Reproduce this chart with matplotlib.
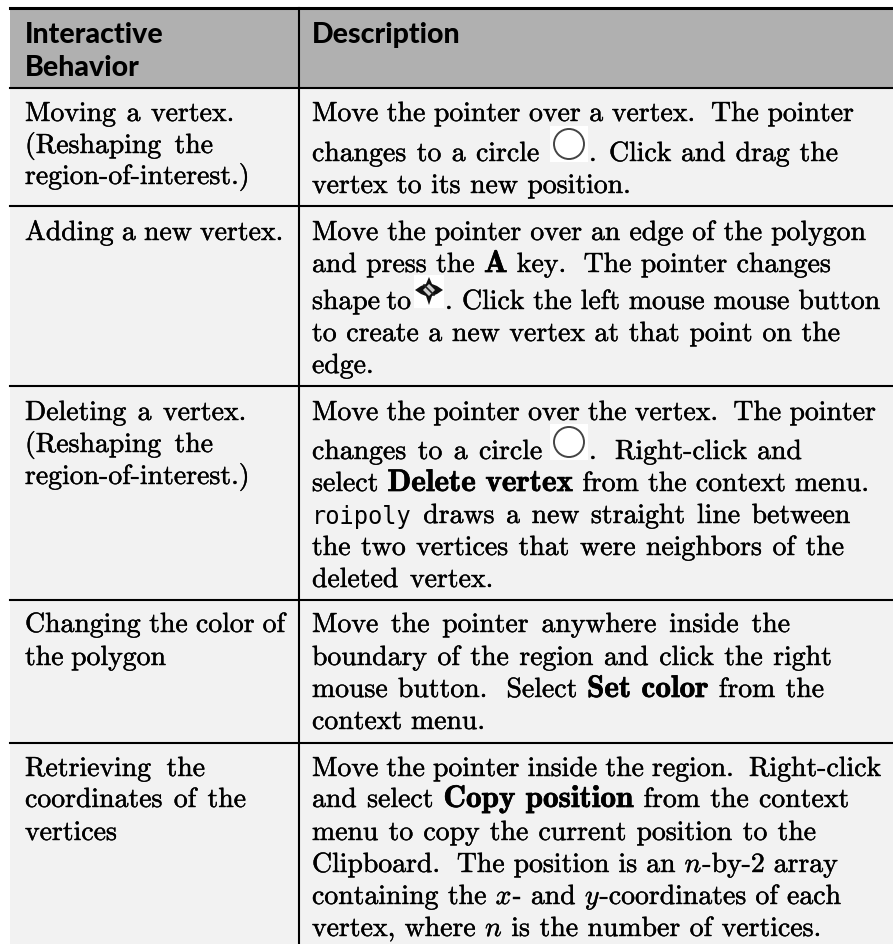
import matplotlib
matplotlib.use("Agg")
import matplotlib.pyplot as plt
import matplotlib.patheffects as pe
from matplotlib.patches import Rectangle, Circle, Polygon

FIG_W, FIG_H = 893, 945
LEFT_X = 25
RIGHT_X = 312
FONT_SIZE = 20

row_lines = [89, 207, 387, 601, 744]
col_line = 299

headers = ["Interactive", "Behavior"]
header_right = "Description"
header_baselines = [43, 76]

# each line: baseline y, right end x, text
left_lines = [
    (122, 235, "Moving a vertex."),
    (154, 214, "(Reshaping the"),
    (185, 254, "region-of-interest.)"),
    (241, 284, "Adding a new vertex."),
    (421, 247, "Deleting a vertex."),
    (453, 214, "(Reshaping the"),
    (485, 254, "region-of-interest.)"),
    (633, 286, "Changing the color of"),
    (666, 167, "the polygon"),
    (777, 206, "Retrieving the"),
    (808, 247, "coordinates of the"),
    (841, 119, "vertices"),
]

# each line: baseline y, right end x, runs of (style, text)
right_lines = [
    (122, 855, [("r", "Move the pointer over a vertex.  The pointer")]),
    (162, 540, [("r", "changes to a circle")]),
    (194, 632, [("r", "vertex to its new position.")]),
    (241, 867, [("r", "Move the pointer over an edge of the polygon")]),
    (273, 832, [("r", "and press the "), ("b", "A"), ("r", " key.  The pointer changes")]),
    (310, 412, [("r", "shape to")]),
    (342, 841, [("r", "to create a new vertex at that point on the")]),
    (374, 374, [("r", "edge.")]),
    (421, 877, [("r", "Move the pointer over the vertex.  The pointer")]),
    (460, 543, [("r", "changes to a circle")]),
    (492, 870, [("r", "select "), ("b", "Delete vertex"), ("r", " from the context menu.")]),
    (524, 851, [("t", "roipoly"), ("r", " draws a new straight line between")]),
    (556, 845, [("r", "the two vertices that were neighbors of the")]),
    (588, 494, [("r", "deleted vertex.")]),
    (633, 791, [("r", "Move the pointer anywhere inside the")]),
    (666, 833, [("r", "boundary of the region and click the right")]),
    (698, 825, [("r", "mouse button.  Select "), ("b", "Set color"), ("r", " from the")]),
    (730, 486, [("r", "context menu.")]),
    (777, 882, [("r", "Move the pointer inside the region.  Right-click")]),
    (808, 850, [("r", "and select "), ("b", "Copy position"), ("r", " from the context")]),
    (841, 817, [("r", "menu to copy the current position to the")]),
    (873, 839, [("r", "Clipboard.  The position is an "), ("i", "n"), ("r", "-by-2 array")]),
    (905, 842, [("r", "containing the "), ("i", "x"), ("r", "- and "), ("i", "y"), ("r", "-coordinates of each")]),
    (937, 822, [("r", "vertex, where "), ("i", "n"), ("r", " is the number of vertices.")]),
]

# text that follows an inline icon: start x, baseline, right end x, text
after_icons = [
    (589, 162, 593, "."),
    (609, 162, 839, "Click and drag the"),
    (445, 310, 449, "."),
    (462, 310, 881, "Click the left mouse mouse button"),
    (589, 460, 593, "."),
    (615, 460, 803, "Right-click and"),
]

circle_icons = [(569, 145), (569, 443)]
fonts = {"r": "cmr10", "b": "cmb10", "t": "DejaVu Sans Mono", "i": "cmmi10"}
sizes = {"r": FONT_SIZE, "b": 22.5, "t": 17, "i": FONT_SIZE}
strokes = {"r": 0.3, "b": 0.5, "t": 0, "i": 0.3}

fig = plt.figure(figsize=(FIG_W / 100, FIG_H / 100), dpi=100)
ax = fig.add_axes([0, 0, 1, 1])
ax.set_xlim(0, FIG_W)
ax.set_ylim(FIG_H, 0)
ax.axis("off")
renderer = fig.canvas.get_renderer()


def draw_line(x, y, end, runs):
    """Draws the words of a line and spreads the gaps so it stops at end"""
    words = []
    gaps = 0
    for style, text in runs:
        for i, word in enumerate(text.split(" ")):
            if i > 0:
                gaps += 1
                words.append(None)
            if word:
                t = ax.text(x, y, word, family=fonts[style], fontsize=sizes[style],
                            va="baseline", ha="left", color="black")
                words.append((t, t.get_window_extent(renderer).width + 1))
                if strokes[style]:
                    t.set_path_effects([pe.withStroke(linewidth=strokes[style], foreground="black")])
    total = sum(w[1] for w in words if w)
    gap = (end - x - total) / gaps if gaps else 0
    for w in words:
        if w is None:
            x += gap
        else:
            w[0].set_x(x)
            x += w[1]


ax.add_patch(Rectangle((10, 9), FIG_W - 10, row_lines[0] - 9, color="#b0b0b0", lw=0))
ax.add_patch(Rectangle((10, row_lines[0]), FIG_W - 10, FIG_H - row_lines[0], color="#f2f2f2", lw=0))

ax.plot([10, FIG_W], [9, 9], color="black", lw=2.2)
for y in row_lines:
    ax.plot([10, FIG_W], [y, y], color="black", lw=1.5)
ax.plot([col_line, col_line], [9, FIG_H], color="black", lw=1.5)

for word, y in zip(headers, header_baselines):
    ax.text(LEFT_X, y, word, family="Lato", weight="black", fontsize=20.5,
            va="baseline", color="black")
ax.text(RIGHT_X, header_baselines[0], header_right, family="Lato", weight="black",
        fontsize=20.5, va="baseline", color="black")

for y, end, text in left_lines:
    draw_line(LEFT_X, y, end, [("r", text)])

for y, end, runs in right_lines:
    draw_line(RIGHT_X, y, end, runs)

for x, y, end, text in after_icons:
    draw_line(x, y, end, [("r", text)])

for cx, cy in circle_icons:
    ax.add_patch(Rectangle((cx - 19, cy - 18), 38, 36, color="white", lw=0))
    ax.add_patch(Circle((cx, cy), 15, fill=False, ec="#444444", lw=1.4))

# cross shaped pointer icon
ax.add_patch(Rectangle((414, 276), 30, 33, color="white", lw=0))
ax.add_patch(Polygon([(429, 278), (432, 285), (437, 287), (443, 291), (437, 295), (432, 297),
                      (429, 306), (426, 297), (421, 295), (415, 291), (421, 287), (426, 285)],
                     color="#111111", lw=0))
ax.add_patch(Polygon([(429, 285), (435, 291), (429, 297), (423, 291)], color="#cfcfcf", lw=0))
ax.plot([424, 434], [286, 296], color="#222222", lw=1.2)

fig.savefig("out.png", dpi=100, facecolor="white")
